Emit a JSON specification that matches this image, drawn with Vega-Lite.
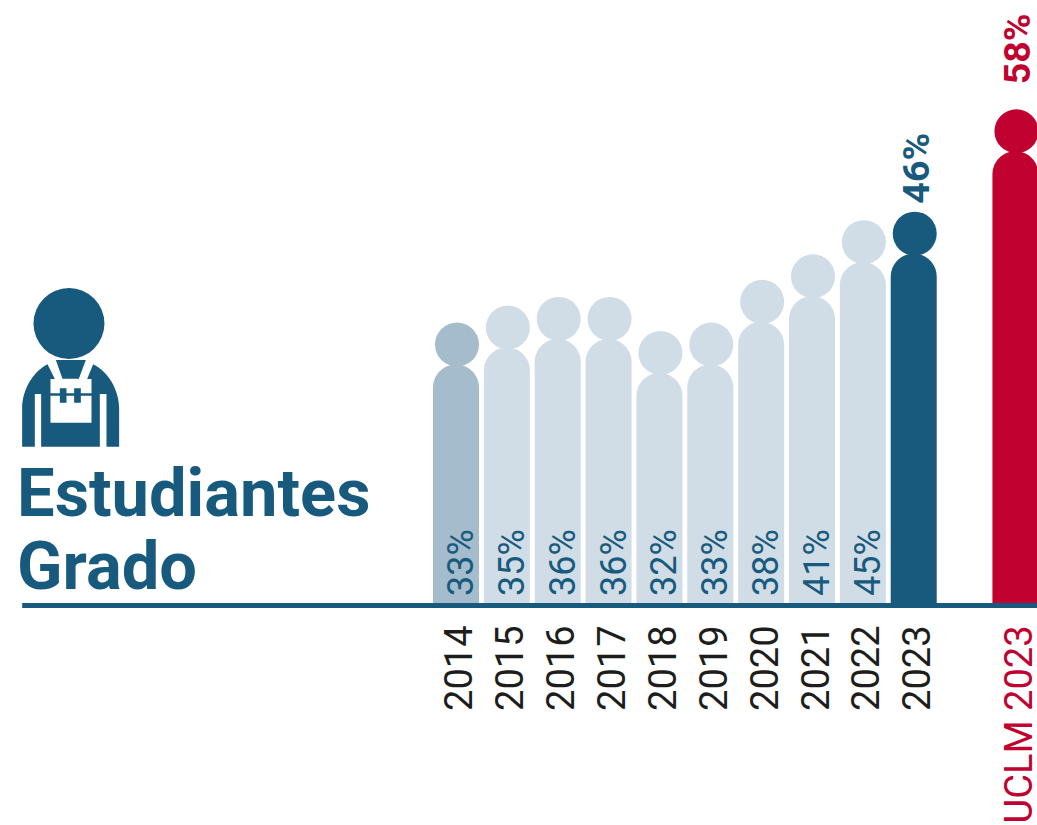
{
"$schema":"https://vega.github.io/schema/vega-lite/v6.json",
"width":1037,"height":604,"padding":{"left":0,"top":0,"right":0,"bottom":221},
"autosize":{"type":"none"},
"background":"white",
"config":{"view":{"stroke":null}},
"datasets":{
"bars":[
{"pos":2014,"value":33,"label":"33%","group":"first"},
{"pos":2015,"value":35,"label":"35%","group":"past"},
{"pos":2016,"value":36,"label":"36%","group":"past"},
{"pos":2017,"value":36,"label":"36%","group":"past"},
{"pos":2018,"value":32,"label":"32%","group":"past"},
{"pos":2019,"value":33,"label":"33%","group":"past"},
{"pos":2020,"value":38,"label":"38%","group":"past"},
{"pos":2021,"value":41,"label":"41%","group":"past"},
{"pos":2022,"value":45,"label":"45%","group":"past"},
{"pos":2023,"value":46,"label":"46%","group":"current"},
{"pos":2025,"value":58,"label":"58%","group":"uclm"}
],
"titles":[{"pos":2005.37,"value":10.3,"text":"Estudiantes"},{"pos":2005.37,"value":1.7,"text":"Grado"}],
"icon":[{"pos":2006.42,"value":23.33}],
"head":[{"pos":2006.39,"value":32.88}],
"base":[{"a":2005.47,"b":2025.424,"level":-0.18}]
},
"data":{"name":"bars"},
"encoding":{
"x":{"field":"pos","type":"quantitative","scale":{"domain":[2005.034,2025.424],"nice":false,"zero":false,"padding":0},
"axis":{"title":null,"domain":false,"ticks":false,"grid":false,"values":[2014,2015,2016,2017,2018,2019,2020,2021,2022,2023,2025],
"labelExpr":"datum.value==2025?'UCLM 2023':''+datum.value","labelAngle":-90,"labelAlign":"right","labelBaseline":"middle","labelPadding":21,"labelOffset":5,"labelFont":"Roboto","labelFontSize":38,"labelLimit":400,"labelColor":{"condition":{"test":"datum.value==2025","value":"#c10230"},"value":"#1d1d1b"},"labelOverlap":false,"labelFlush":false,"labelBound":false}},
"y":{"field":"value","type":"quantitative","scale":{"domain":[0,70.81],"nice":false,"zero":false},"axis":null},
"color":{"field":"group","type":"nominal","scale":{"domain":["first","past","current","uclm"],"range":["#a4bccb","#d0dde6","#185a7d","#c10230"]},"legend":null}
},
"layer":[
{"mark":{"type":"bar","size":46,"cornerRadiusTopLeft":23,"cornerRadiusTopRight":23,"yOffset":42,"y2Offset":0},"encoding":{"y2":{"datum":0}}},
{"mark":{"type":"point","filled":true,"opacity":1,"shape":"circle","size":1936,"yOffset":22,"xOffset":1}},
{"transform":[{"filter":"datum.pos<2023"}],"mark":{"type":"text","font":"Roboto","fontSize":36,"angle":-90,"align":"left","baseline":"middle","dy":6,"yOffset":-8},
"encoding":{"y":{"datum":0},"color":{"value":"#185a7d"},"text":{"field":"label"}}},
{"data":{"name":"base"},"mark":{"type":"rule","size":5},
"encoding":{"x":{"field":"a","type":"quantitative"},"x2":{"field":"b"},"y":{"field":"level","type":"quantitative"},"color":{"value":"#185a7d"}}},
{"data":{"name":"titles"},"mark":{"type":"text","font":"Roboto","fontWeight":"bold","fontSize":66.8,"align":"left","baseline":"alphabetic"},"encoding":{"text":{"field":"text"},"color":{"value":"#185a7d"}}},
{"data":{"name":"head"},"mark":{"type":"point","filled":true,"opacity":1,"shape":"circle","size":5041},"encoding":{"color":{"value":"#185a7d"}}},
{"data":{"name":"icon"},"mark":{"type":"point","filled":true,"opacity":1,"size":10000,"shape":"M-0.967 0.833L-0.967 0.067C-0.967 -0.3 -0.747 -0.667 -0.46 -0.813L-0.313 -0.52L-0.4 -0.52L-0.4 -0.22L-0.713 -0.22L-0.713 0.833ZM-0.587 -0.22L-0.4 -0.22L-0.4 0.353L0.42 0.353L0.42 -0.22L0.587 -0.22L0.587 0.833L-0.587 0.833ZM0.973 0.833L0.973 0.067C0.973 -0.3 0.753 -0.667 0.453 -0.813L0.333 -0.52L0.42 -0.52L0.42 -0.22L0.72 -0.22L0.72 0.833ZM-0.293 -0.9L0.307 -0.9L0.167 -0.527L-0.16 -0.527ZM-0.213 -0.333L-0.08 -0.333L-0.08 -0.047L-0.213 -0.047ZM0.073 -0.333L0.207 -0.333L0.207 -0.047L0.073 -0.047ZM-0.4 -0.233L0.42 -0.233L0.42 -0.187L-0.4 -0.187Z"},"encoding":{"color":{"value":"#185a7d"}}},
{"transform":[{"filter":"datum.pos==2023"}],"mark":{"type":"text","font":"Roboto","fontWeight":"bold","fontSize":37.5,"angle":-90,"align":"left","baseline":"middle","dy":4,"yOffset":-8},"encoding":{"text":{"field":"label"}}},
{"transform":[{"filter":"datum.pos==2025"}],"mark":{"type":"text","font":"Roboto","fontWeight":"bold","fontSize":37.5,"angle":-90,"align":"left","baseline":"middle","dy":4,"yOffset":-25},"encoding":{"text":{"field":"label"}}}
]
}
